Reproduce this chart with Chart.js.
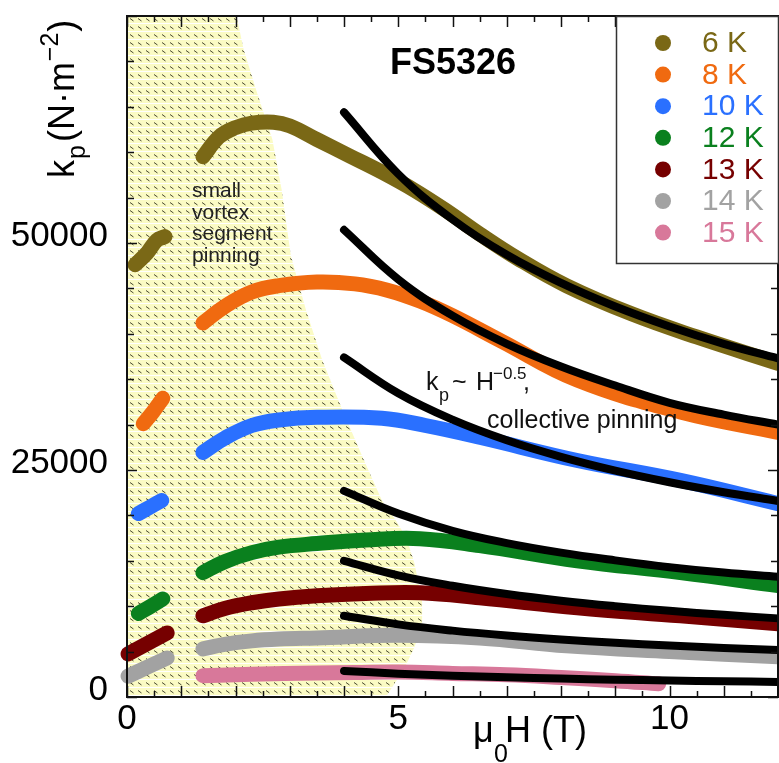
<!DOCTYPE html>
<html><head><meta charset="utf-8">
<script src="https://cdn.jsdelivr.net/npm/chart.js@4/dist/chart.umd.min.js"></script>
<style>html,body{margin:0;padding:0;background:#fff;}canvas{display:block;}</style>
</head><body>
<canvas id="c" width="779" height="763"></canvas>
<script>
// ---------- data ----------
const temps = ['6 K','8 K','10 K','12 K','13 K','14 K','15 K'];
const colors = ['#7a6816','#f06a10','#2a70ff','#0a801e','#760000','#a2a2a2','#d8789a'];

// low-field segments (mu0H in T, kp in N/m^2)
const lowH6 = [0.15, 0.37, 0.55, 0.70];   const lowK6 = [47600, 48900, 50300, 50700];
const lowH8 = [0.30, 0.48, 0.66];         const lowK8 = [30100, 31400, 32900];
const lowH10 = [0.21, 0.42, 0.64];        const lowK10 = [20200, 20900, 21650];
const lowH12 = [0.21, 0.44, 0.66];        const lowK12 = [9200, 10000, 10800];
const lowH13 = [0.02, 0.38, 0.74];        const lowK13 = [4750, 5900, 7050];
const lowH14 = [0.02, 0.38, 0.74];        const lowK14 = [2300, 3300, 4300];
const lowH15 = [];                        const lowK15 = [];

// main field sweep
const mainH6  = [1.4, 1.7, 2.0, 2.3, 2.7, 3.0, 3.5, 4.1, 4.7, 5.3, 5.9, 6.5, 7.2, 8.1, 9.3, 10.5, 12.0];
const mainK6  = [59500, 61700, 62700, 63200, 63300, 62900, 61400, 59600, 57800, 55800, 53500, 51000, 48300, 45300, 42200, 39650, 36750];
const mainH8  = [1.4, 1.8, 2.3, 2.8, 3.5, 4.2, 4.8, 5.4, 6.0, 6.9, 8.3, 10.2, 12.0];
const mainK8  = [41200, 43000, 44600, 45300, 45700, 45500, 44800, 43600, 42000, 39200, 34900, 31400, 29150];
const mainH10 = [1.4, 1.8, 2.3, 2.8, 3.5, 4.7, 5.5, 6.5, 8.3, 10.2, 12.0];
const mainK10 = [26940, 28500, 29900, 30500, 30800, 30700, 29900, 28600, 26050, 23850, 21300];
const mainH12 = [1.4, 1.8, 2.3, 2.8, 3.5, 4.4, 5.4, 6.5, 8.3, 10.2, 12.0];
const mainK12 = [13700, 14900, 15900, 16500, 16900, 17300, 17440, 16670, 15000, 13700, 12270];
const mainH13 = [1.4, 1.8, 2.3, 2.8, 3.5, 4.4, 5.4, 6.5, 8.3, 10.2, 12.0];
const mainK13 = [8940, 9750, 10380, 10800, 11150, 11400, 11480, 10930, 9830, 8940, 8060];
const mainH14 = [1.4, 1.8, 2.3, 2.8, 3.5, 5.0, 6.5, 8.1, 10.0, 12.0];
const mainK14 = [5300, 5800, 6180, 6380, 6510, 6800, 6500, 5630, 5000, 4420];
const mainH15 = [1.4, 2.3, 3.5, 4.2, 5.0, 6.0, 7.0, 8.0, 9.0, 9.8];
const mainK15 = [2350, 2500, 2650, 2700, 2750, 2600, 2450, 2150, 1800, 1450];

// black lines: kp ~ H^-0.5 (collective pinning)
const fitH = [4, 5, 6, 7, 8, 9, 10, 11, 12];
const fitK6  = [64400, 57600, 52600, 48700, 45600, 43000, 40800, 38900, 37300];
const fitK8  = [51450, 46000, 42000, 38900, 36400, 34300, 32400, 31100, 30000];
const fitK10 = [37400, 33450, 30540, 28270, 26450, 24930, 23650, 22550, 21590];
const fitK12 = [22700, 20200, 18300, 16950, 15900, 15050, 14300, 13700, 13250];
const fitK13 = [15000, 13400, 12250, 11340, 10600, 10000, 9490, 9050, 8660];
const fitK14 = [8950, 8000, 7310, 6770, 6330, 5970, 5660, 5400, 5170];
const fitK15 = [2870, 2570, 2340, 2170, 2030, 1910, 1815, 1730, 1660];

// "small vortex segment pinning" region: right boundary field at each kp level
const regionK = [0, 3000, 5500, 8000, 10500, 14700, 17500, 19500, 21640, 26050, 31600, 37100, 42600, 48600, 55900, 61400, 66500, 71300, 75000];
const regionH = [4.77, 5.1, 5.3, 5.44, 5.44, 5.3, 5.15, 4.95, 4.7, 4.37, 3.97, 3.6, 3.3, 3.02, 2.85, 2.68, 2.4, 2.15, 2.02];

// tick labels
const xTickLabels = [0, 5, 10];
const yTickLabels = [0, 25000, 50000];

// ---------- build ----------
const pts = (h, k) => h.map((x, i) => ({x: x, y: k[i]}));
const lows = [[lowH6,lowK6],[lowH8,lowK8],[lowH10,lowK10],[lowH12,lowK12],[lowH13,lowK13],[lowH14,lowK14],[lowH15,lowK15]];
const mains = [[mainH6,mainK6],[mainH8,mainK8],[mainH10,mainK10],[mainH12,mainK12],[mainH13,mainK13],[mainH14,mainK14],[mainH15,mainK15]];
const fits = [fitK6, fitK8, fitK10, fitK12, fitK13, fitK14, fitK15];

function hatch() {
  const c = document.createElement('canvas');
  c.width = 8; c.height = 8;
  const g = c.getContext('2d');
  g.fillStyle = '#fbfbc4'; g.fillRect(0, 0, 8, 8);
  g.strokeStyle = '#4a4a30'; g.lineWidth = 1;
  g.beginPath(); g.moveTo(2, 2.5); g.lineTo(5.5, 5); g.stroke();
  g.fillStyle = '#ffffff'; g.fillRect(0, 7, 8, 1);
  return g.createPattern(c, 'repeat');
}

const datasets = [];
datasets.push({
  label: 'region', data: pts(regionH, regionK), indexAxis: 'y', borderWidth: 0, pointRadius: 0,
  fill: 'origin', backgroundColor: hatch(), tension: 0, order: 5
});
temps.forEach((t, i) => {
  const d = pts(lows[i][0], lows[i][1]);
  if (d.length) d.push({x: 1.05, y: null});
  datasets.push({
    label: t, data: d.concat(pts(mains[i][0], mains[i][1])),
    borderColor: colors[i], backgroundColor: colors[i], borderWidth: 15,
    borderCapStyle: 'round', borderJoinStyle: 'round', pointRadius: 0,
    tension: 0.4, spanGaps: false, fill: false, order: 3, clip: false
  });
});
temps.forEach((t, i) => {
  datasets.push({
    label: 'fit ' + t, data: pts(fitH, fits[i]),
    borderColor: '#000', borderWidth: 8, borderCapStyle: 'round', pointRadius: 0,
    tension: 0.4, fill: false, order: 1, clip: false
  });
});

const FONT = '"Liberation Sans", Arial, Helvetica, sans-serif';

const decor = {
  id: 'decor',
  afterDatasetsDraw(chart) {
    const ctx = chart.ctx, xs = chart.scales.x, ys = chart.scales.y, a = chart.chartArea;
    ctx.save();
    // frame
    ctx.strokeStyle = '#111'; ctx.lineWidth = 2;
    ctx.strokeRect(a.left, a.top, a.right - a.left, a.bottom - a.top);
    // inward ticks
    ctx.lineWidth = 1.5;
    for (let i = 0; i <= 24; i++) {
      const v = i / 2, px = Math.round(xs.getPixelForValue(v)) + 0.5;
      const L = (i % 2 === 0) ? 11 : 6;
      ctx.beginPath();
      ctx.moveTo(px, a.bottom); ctx.lineTo(px, a.bottom - L);
      ctx.moveTo(px, a.top); ctx.lineTo(px, a.top + L);
      ctx.stroke();
    }
    for (let i = 0; i <= 15; i++) {
      const v = i * 5000, py = Math.round(ys.getPixelForValue(v)) + 0.5;
      const L = (i % 5 === 0) ? 10 : 7;
      ctx.beginPath();
      ctx.moveTo(a.left, py); ctx.lineTo(a.left + L, py);
      ctx.moveTo(a.right, py); ctx.lineTo(a.right - L, py);
      ctx.stroke();
    }
    // texts
    ctx.fillStyle = '#000';
    ctx.textBaseline = 'alphabetic'; ctx.textAlign = 'left';
    ctx.font = 'bold 36px ' + FONT;
    ctx.fillText('FS5326', 390, 74);

    ctx.fillStyle = '#222';
    ctx.font = '21px ' + FONT;
    ['small', 'vortex', 'segment', 'pinning'].forEach((s, i) => ctx.fillText(s, 192, 197 + i * 21.7));

    ctx.fillStyle = '#111';
    ctx.font = '25px ' + FONT;
    ctx.fillText('k', 426, 390);
    ctx.font = '18px ' + FONT; ctx.fillText('p', 439, 401);
    ctx.font = '25px ' + FONT; ctx.fillText('~', 452, 390); ctx.fillText('H', 476, 390);
    ctx.font = '17px ' + FONT; ctx.fillText('\u22120.5', 493, 379);
    ctx.font = '25px ' + FONT; ctx.fillText(',', 523, 390);
    ctx.fillText('collective pinning', 487, 428);

    // axis titles
    ctx.fillStyle = '#000';
    ctx.font = '36px ' + FONT;
    ctx.fillText('\u03bc', 473, 742);
    ctx.font = '25px ' + FONT; ctx.fillText('0', 494, 762);
    ctx.font = '36px ' + FONT; ctx.fillText('H (T)', 505, 742);

    ctx.save();
    ctx.translate(74, 178); ctx.rotate(-Math.PI / 2);
    ctx.font = '36px ' + FONT; ctx.fillText('k', 0, 0);
    let w = ctx.measureText('k').width;
    ctx.font = '25px ' + FONT; ctx.fillText('p', w + 1, 11);
    w += ctx.measureText('p').width + 4;
    ctx.font = '36px ' + FONT; ctx.fillText('(N\u00b7m', w, 0);
    w += ctx.measureText('(N\u00b7m').width;
    ctx.font = '25px ' + FONT; ctx.fillText('\u22122', w + 1, -16);
    w += ctx.measureText('\u22122').width + 2;
    ctx.font = '36px ' + FONT; ctx.fillText(')', w, 0);
    ctx.restore();

    // legend
    ctx.fillStyle = '#fff';
    ctx.fillRect(616, 16, 162, 247);
    ctx.strokeStyle = '#333'; ctx.lineWidth = 1.5;
    ctx.strokeRect(616.5, 16.5, 162, 247);
    ctx.font = '30px ' + FONT; ctx.textBaseline = 'middle';
    temps.forEach((t, i) => {
      const yy = 43 + i * 31.6;
      ctx.fillStyle = colors[i];
      ctx.beginPath(); ctx.arc(663, yy, 8, 0, Math.PI * 2); ctx.fill();
      ctx.fillText(t, 702, yy + 1);
    });
    ctx.restore();
  }
};

new Chart(document.getElementById('c'), {
  type: 'line',
  data: { datasets: datasets },
  options: {
    responsive: false, animation: false, events: [],
    layout: { padding: { left: 0, top: 16, right: 1, bottom: 0 } },
    plugins: { legend: { display: false }, tooltip: { enabled: false }, title: { display: false } },
    scales: {
      x: {
        type: 'linear', min: 0, max: 12,
        afterBuildTicks: s => { s.ticks = xTickLabels.map(v => ({value: v})); },
        afterFit: s => { s.height = 66; s.paddingLeft = 0; s.paddingRight = 0; },
        grid: { display: false, drawTicks: false }, border: { display: false },
        ticks: { autoSkip: false, maxRotation: 0, padding: 1, color: '#000', font: { family: FONT, size: 35 },
                 callback: v => String(v) }
      },
      y: {
        type: 'linear', min: 0, max: 75000,
        afterBuildTicks: s => { s.ticks = yTickLabels.map(v => ({value: v})); },
        afterFit: s => { s.width = 127; s.paddingTop = 0; s.paddingBottom = 0; },
        grid: { display: false, drawTicks: false }, border: { display: false },
        ticks: { autoSkip: false, padding: 19, labelOffset: -7, color: '#000', font: { family: FONT, size: 35 },
                 callback: v => String(v) }
      }
    }
  },
  plugins: [decor]
});
</script>
</body></html>
